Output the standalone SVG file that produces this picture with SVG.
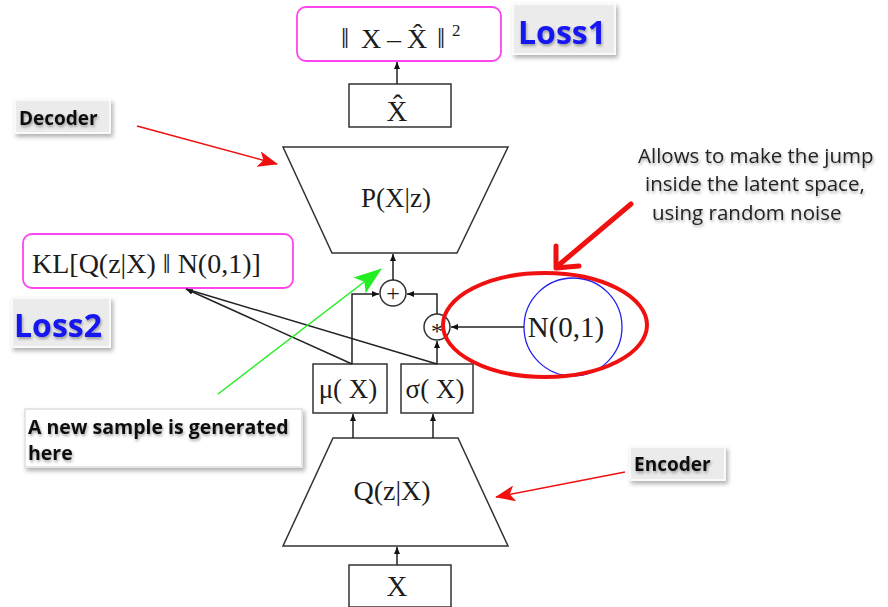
<svg xmlns="http://www.w3.org/2000/svg" width="888" height="607" viewBox="0 0 888 607">
  <style>
    .math { font-family: "Liberation Serif", "Times New Roman", serif; fill: #1c1c1c; }
    .blk { fill: #fff; stroke: #333; stroke-width: 1.5; }
    .loss { fill: #fff; stroke: #ff44ee; stroke-width: 1.8; }
    .wire { fill: none; stroke: #222; stroke-width: 1.5; }
    .tag { fill: #ebebeb; stroke: #fafafa; stroke-width: 2; }
    .tagtxt { font-family: "Open Sans", "Noto Sans", sans-serif; font-weight: bold; fill: #111; }
    .losstxt { font-family: "Open Sans", "Noto Sans", sans-serif; font-weight: bold; fill: #1414f0; font-size: 32px; }
    .note { font-family: "Open Sans", "Noto Sans", sans-serif; fill: #222; font-size: 20.5px; }
    .red { stroke: #f01010; fill: none; }
  </style>
  <defs>
    <marker id="ah" markerWidth="8" markerHeight="8" refX="7" refY="4" orient="auto" markerUnits="userSpaceOnUse">
      <path d="M0,1 L7,4 L0,7 z" fill="#111"/>
    </marker>
    <marker id="ahRed" markerWidth="20" markerHeight="16" refX="19" refY="8" orient="auto" markerUnits="userSpaceOnUse">
      <path d="M0,0 L20,8 L0,16 L5,8 z" fill="#f01010"/>
    </marker>
    <marker id="ahGreen" markerWidth="28" markerHeight="20" refX="27" refY="10" orient="auto" markerUnits="userSpaceOnUse">
      <path d="M0,0 L28,10 L0,20 L6,10 z" fill="#22ee22"/>
    </marker>
    <filter id="shadow" x="-20%" y="-30%" width="150%" height="170%">
      <feDropShadow dx="2" dy="3" stdDeviation="2" flood-color="#000" flood-opacity="0.3"/>
    </filter>
    <filter id="tshadow" x="-10%" y="-30%" width="130%" height="170%">
      <feDropShadow dx="1" dy="2" stdDeviation="1.5" flood-color="#000" flood-opacity="0.35"/>
    </filter>
  </defs>

  <!-- reconstruction loss -->
  <g id="loss1-box">
    <rect class="loss" x="297" y="7" width="204" height="54" rx="9"/>
    <text class="math" x="341" y="48" font-size="29">‖</text>
    <text class="math" x="361" y="48" font-size="28">X</text>
    <text class="math" x="387" y="48" font-size="28">–</text>
    <text class="math" x="407" y="48" font-size="28">X̂</text>
    <text class="math" x="437" y="48" font-size="29">‖</text>
    <text class="math" x="452" y="36" font-size="17">2</text>
  </g>
  <g id="loss1-tag" filter="url(#shadow)">
    <rect class="tag" x="513" y="4" width="102" height="50"/>
    <text class="losstxt" x="518" y="44" filter="url(#tshadow)">Loss1</text>
  </g>

  <!-- reconstructed sample -->
  <g id="xhat">
    <rect class="blk" x="349" y="84" width="102" height="43"/>
    <text class="math" x="397" y="121" font-size="29" text-anchor="middle">X̂</text>
  </g>

  <!-- decoder -->
  <g id="decoder">
    <polygon class="blk" points="283,147 508,147 457,253 332,253"/>
    <text class="math" x="396" y="207" font-size="27" text-anchor="middle">P(X|z)</text>
  </g>

  <!-- sampling operators -->
  <g id="plus">
    <circle class="blk" cx="393" cy="293" r="13"/>
    <text class="math" x="393" y="301" font-size="24" text-anchor="middle">+</text>
  </g>
  <g id="times">
    <circle class="blk" cx="437" cy="327" r="13"/>
    <text class="math" x="437" y="339" font-size="24" text-anchor="middle">*</text>
  </g>

  <!-- noise source -->
  <g id="noise">
    <circle cx="573" cy="327" r="49" fill="#fff" stroke="#2020ee" stroke-width="1.3"/>
    <text class="math" x="566" y="337" font-size="29" text-anchor="middle">N(0,1)</text>
  </g>

  <!-- encoder outputs -->
  <g id="mu">
    <rect class="blk" x="313" y="364" width="74" height="49"/>
    <text class="math" x="348" y="398" font-size="27" text-anchor="middle">μ( X)</text>
  </g>
  <g id="sigma">
    <rect class="blk" x="401" y="364" width="72" height="49"/>
    <text class="math" x="435" y="398" font-size="27" text-anchor="middle">σ( X)</text>
  </g>

  <!-- encoder -->
  <g id="encoder">
    <polygon class="blk" points="333,438 458,438 508,546 283,546"/>
    <text class="math" x="392" y="500" font-size="28" text-anchor="middle">Q(z|X)</text>
  </g>

  <!-- input -->
  <g id="x-in">
    <rect class="blk" x="349" y="565" width="102" height="42"/>
    <text class="math" x="397" y="596" font-size="29" text-anchor="middle">X</text>
  </g>

  <!-- latent loss -->
  <g id="loss2-box">
    <rect class="loss" x="23" y="234" width="270" height="54" rx="9"/>
    <text class="math" x="32" y="273" font-size="28">KL[Q(z|X) ‖ N(0,1)]</text>
  </g>
  <g id="loss2-tag" filter="url(#shadow)">
    <rect class="tag" x="12" y="298" width="98" height="49"/>
    <text class="losstxt" x="14" y="337" filter="url(#tshadow)">Loss2</text>
  </g>

  <!-- annotations -->
  <g id="decoder-tag" filter="url(#shadow)">
    <rect class="tag" x="15" y="100" width="95" height="33"/>
    <text class="tagtxt" x="19" y="125" font-size="19" filter="url(#tshadow)">Decoder</text>
  </g>
  <g id="encoder-tag" filter="url(#shadow)">
    <rect class="tag" x="630" y="447" width="95" height="33"/>
    <text class="tagtxt" x="634" y="471" font-size="19" filter="url(#tshadow)">Encoder</text>
  </g>
  <g id="sample-tag" filter="url(#shadow)">
    <rect x="25" y="409" width="277" height="58" fill="#fff" stroke="#e6e6e6" stroke-width="2"/>
    <text class="tagtxt" font-size="19.5" filter="url(#tshadow)">
      <tspan x="28" y="434">A new sample is generated</tspan>
      <tspan x="28" y="460">here</tspan>
    </text>
  </g>
  <g id="noise-note" filter="url(#tshadow)">
    <text class="note">
      <tspan x="638" y="163">Allows to make the jump</tspan>
      <tspan x="645" y="191">inside the latent space,</tspan>
      <tspan x="652" y="220">using random noise</tspan>
    </text>
  </g>

  <!-- connectors -->
  <g id="connectors">
    <line class="wire" x1="397" y1="84" x2="397" y2="62" marker-end="url(#ah)"/>
    <line class="wire" x1="393" y1="280" x2="393" y2="254" marker-end="url(#ah)"/>
    <polyline class="wire" points="352,364 352,294 379,294" marker-end="url(#ah)"/>
    <polyline class="wire" points="437,314 437,294 407,294" marker-end="url(#ah)"/>
    <line class="wire" x1="437" y1="364" x2="437" y2="341" marker-end="url(#ah)"/>
    <line class="wire" x1="524" y1="327" x2="451" y2="327" marker-end="url(#ah)"/>
    <line class="wire" x1="353" y1="438" x2="353" y2="414" marker-end="url(#ah)"/>
    <line class="wire" x1="433" y1="438" x2="433" y2="414" marker-end="url(#ah)"/>
    <line class="wire" x1="397" y1="565" x2="397" y2="547" marker-end="url(#ah)"/>
    <line class="wire" x1="352" y1="364" x2="186" y2="289" marker-end="url(#ah)"/>
    <line class="wire" x1="437" y1="364" x2="186" y2="289"/>
    <!-- highlights -->
    <ellipse class="red" cx="545" cy="325" rx="102" ry="52" stroke-width="4"/>
    <polyline class="red" points="631,204 560,264" stroke-width="5" stroke-linecap="round"/>
    <polyline class="red" points="556,246 556,268 579,266" stroke-width="5" stroke-linecap="round" stroke-linejoin="round"/>
    <line x1="137" y1="126" x2="277" y2="164" stroke="#f01010" stroke-width="1.5" marker-end="url(#ahRed)"/>
    <line x1="625" y1="472" x2="496" y2="497" stroke="#f01010" stroke-width="1.5" marker-end="url(#ahRed)"/>
    <line x1="218" y1="394" x2="381" y2="269" stroke="#22ee22" stroke-width="1.5" marker-end="url(#ahGreen)"/>
  </g>
</svg>
